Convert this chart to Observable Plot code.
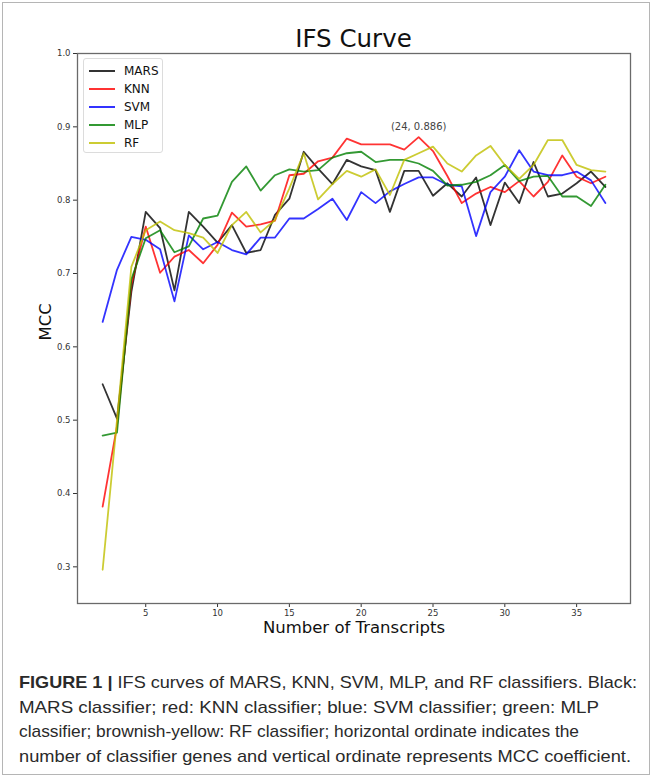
<!DOCTYPE html>
<html>
<head>
<meta charset="utf-8">
<script src="https://cdn.jsdelivr.net/npm/d3@7"></script>
<script src="https://cdn.jsdelivr.net/npm/@observablehq/plot@0.6"></script>
<style>
  html, body { margin: 0; padding: 0; background: #fff; }
  #page { position: relative; width: 654px; height: 781px; overflow: hidden; }
  #border { position: absolute; left: 2px; top: 2px; width: 648px; height: 773px; border: 1px solid #b5b5b5; box-sizing: border-box; }
  #title { position: absolute; left: 77px; width: 553px; top: 24px; text-align: center; font-family: "DejaVu Sans", sans-serif; font-size: 24.5px; color: #111; }
  #chart { position: absolute; left: 0; top: 0; }
  #legend { position: absolute; left: 83px; top: 58px; width: 80px; height: 95px; box-sizing: border-box; border: 1px solid #dcdcdc; border-radius: 3px; background: rgba(255,255,255,0.85); font-family: "DejaVu Sans", sans-serif; font-size: 12px; color: #111; padding-top: 3px; }
  .lrow { height: 18px; display: flex; align-items: center; }
  .lline { width: 26px; margin-left: 5px; margin-right: 9px; border-top: 2px solid; }
  #caption { position: absolute; left: 19px; top: 673px; font-family: "Liberation Sans", Arial, sans-serif; font-size: 17px; color: #2a2a2a; }
  .cline { position: absolute; left: 0; white-space: nowrap; transform-origin: 0 50%; }
</style>
</head>
<body>
<div id="page">
  <div id="border"></div>
  <div id="chart"></div>
  <div id="title">IFS Curve</div>
  <div id="legend"></div>
  <div id="caption"></div>
</div>
<script>
// ---- data ----
const steps = [2,3,4,5,6,7,8,9,10,11,12,13,14,15,16,17,18,19,20,21,22,23,24,25,26,27,28,29,30,31,32,33,34,35,36,37];
const mars = [0.549,0.502,0.675,0.784,0.762,0.677,0.784,0.764,0.742,0.766,0.728,0.732,0.780,0.802,0.866,0.843,0.822,0.855,0.846,0.841,0.784,0.840,0.840,0.806,0.823,0.805,0.831,0.766,0.824,0.796,0.852,0.805,0.809,0.823,0.839,0.818];
const knn  = [0.382,0.492,0.685,0.764,0.701,0.723,0.732,0.714,0.739,0.783,0.764,0.767,0.772,0.834,0.836,0.853,0.858,0.884,0.876,0.876,0.876,0.869,0.886,0.867,0.833,0.796,0.809,0.818,0.811,0.826,0.805,0.825,0.861,0.832,0.823,0.832];
const svm  = [0.634,0.705,0.750,0.746,0.733,0.662,0.752,0.733,0.743,0.732,0.726,0.749,0.749,0.775,0.775,0.788,0.802,0.773,0.811,0.796,0.812,0.822,0.831,0.831,0.821,0.819,0.751,0.811,0.832,0.868,0.839,0.834,0.834,0.839,0.827,0.796];
const mlp  = [0.479,0.483,0.692,0.748,0.759,0.729,0.737,0.775,0.779,0.825,0.846,0.813,0.834,0.842,0.839,0.841,0.858,0.864,0.866,0.852,0.855,0.855,0.850,0.840,0.820,0.821,0.825,0.834,0.848,0.826,0.832,0.833,0.805,0.805,0.792,0.821];
const rf   = [0.296,0.500,0.709,0.759,0.771,0.759,0.755,0.749,0.728,0.766,0.784,0.756,0.773,0.816,0.864,0.801,0.822,0.840,0.832,0.842,0.807,0.855,0.864,0.873,0.850,0.839,0.861,0.874,0.848,0.829,0.848,0.882,0.882,0.848,0.841,0.839];
const seriesNames = ["MARS","KNN","SVM","MLP","RF"];
const seriesColors = ["#000000","#ff0000","#0000ff","#008000","#bfbf00"];
const xTicks = [5,10,15,20,25,30,35];
const yTicks = [0.3,0.4,0.5,0.6,0.7,0.8,0.9,1.0];
const annot = {x: 24, y: 0.886};

const seriesValues = [mars, knn, svm, mlp, rf];
const rows = [];
seriesValues.forEach((vals, si) => vals.forEach((v, i) => rows.push({x: steps[i], y: v, s: seriesNames[si]})));

const lineMarks = seriesNames.map((name, si) =>
  Plot.line(rows.filter(d => d.s === name), {x: "x", y: "y", stroke: seriesColors[si], strokeOpacity: 0.8, strokeWidth: 1.8})
);

const chart = Plot.plot({
  width: 654,
  height: 645,
  marginLeft: 77,
  marginRight: 24,
  marginTop: 53,
  marginBottom: 42,
  style: {fontFamily: "DejaVu Sans, sans-serif", fontSize: "8.5px", color: "#333", background: "transparent"},
  x: {domain: [0.25, 38.75], ticks: xTicks, tickSize: 4, tickPadding: 2, label: null},
  y: {domain: [0.25, 1.0], ticks: yTicks, tickFormat: d3.format(".1f"), tickSize: 4, tickPadding: 3, label: null},
  marks: [
    ...lineMarks,
    Plot.text([annot], {x: "x", y: "y", text: d => `(${d.x}, ${d.y})`, dy: -10, fontSize: 10, fill: "#444"}),
    Plot.frame({stroke: "#6a6a6a", strokeWidth: 1.3}),
    Plot.text(["Number of Transcripts"], {frameAnchor: "bottom", dy: 29, fontSize: 16.5, fill: "#111", text: d => d}),
    Plot.text(["MCC"], {frameAnchor: "left", dx: -32, dy: 12, rotate: -90, fontSize: 16.5, fill: "#111", text: d => d})
  ]
});
document.getElementById("chart").appendChild(chart);

// legend
const legend = document.getElementById("legend");
seriesNames.forEach((name, i) => {
  const row = document.createElement("div");
  row.className = "lrow";
  const ln = document.createElement("span");
  ln.className = "lline";
  ln.style.borderColor = seriesColors[i];
  ln.style.opacity = 0.8;
  const lb = document.createElement("span");
  lb.textContent = name;
  row.appendChild(ln); row.appendChild(lb);
  legend.appendChild(row);
});

// caption
const captionLines = [
  {html: "<b>FIGURE 1 |</b> IFS curves of MARS, KNN, SVM, MLP, and RF classifiers. Black:", w: 618},
  {html: "MARS classifier; red: KNN classifier; blue: SVM classifier; green: MLP", w: 580},
  {html: "classifier; brownish-yellow: RF classifier; horizontal ordinate indicates the", w: 560},
  {html: "number of classifier genes and vertical ordinate represents MCC coefficient.", w: 612}
];
const cap = document.getElementById("caption");
captionLines.forEach((c, i) => {
  const d = document.createElement("div");
  d.className = "cline";
  d.style.top = (i * 24.6) + "px";
  d.innerHTML = c.html;
  cap.appendChild(d);
  const w = d.getBoundingClientRect().width;
  if (w > 0) d.style.transform = `scaleX(${c.w / w})`;
});
</script>
</body>
</html>
